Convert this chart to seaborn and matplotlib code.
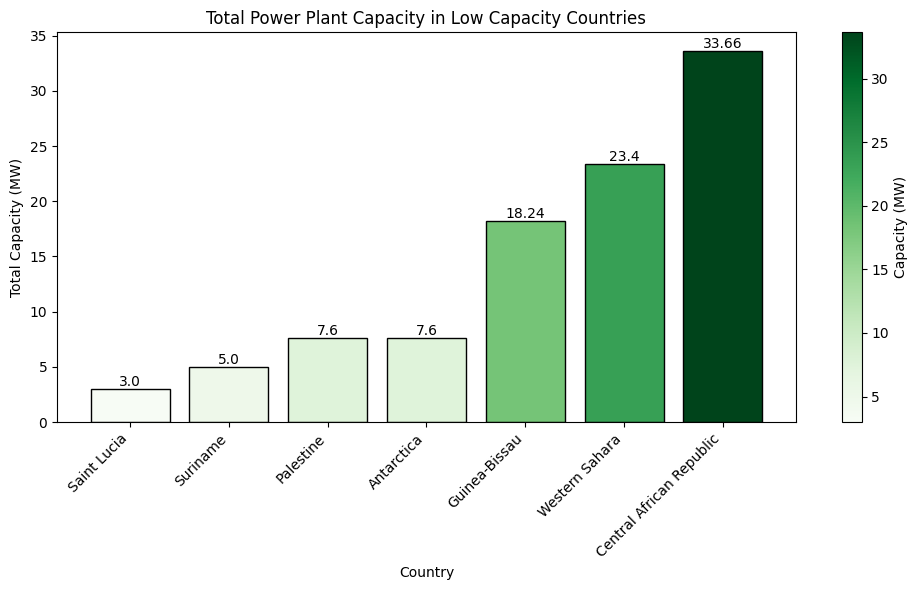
import matplotlib
matplotlib.use("Agg")
import matplotlib.pyplot as plt
import seaborn as sns
from matplotlib.colors import Normalize
from matplotlib.cm import ScalarMappable

# data
countries = ['Saint Lucia', 'Suriname', 'Palestine', 'Antarctica',
             'Guinea-Bissau', 'Western Sahara', 'Central African Republic']
capacity = [3.0, 5.0, 7.6, 7.6, 18.24, 23.4, 33.66]

norm = Normalize(vmin=min(capacity), vmax=max(capacity))
cmap = plt.get_cmap('Greens')
colors = [cmap(norm(v)) for v in capacity]

W, H = 917, 590
fig = plt.figure(figsize=(W / 100, H / 100), dpi=100)
# axes placed to match the reference layout (pixel boxes -> figure fractions)
ax = fig.add_axes([57 / W, 1 - 422 / H, (796 - 57) / W, (422 - 32) / H])
cax = fig.add_axes([842 / W, 1 - 422 / H, 19.5 / W, (422 - 32) / H])

sns.barplot(x=countries, y=capacity, hue=countries, palette=colors, legend=False,
            saturation=1, edgecolor='black', linewidth=1, width=0.8, ax=ax)

# value labels on top of bars
for cont, v in zip(ax.containers, capacity):
    ax.bar_label(cont, labels=[f'{v}'], fontsize=10)

ax.set_xlim(-0.74, len(countries) - 1 + 0.74)
ax.set_title('Total Power Plant Capacity in Low Capacity Countries')
ax.set_xlabel('Country')
ax.set_ylabel('Total Capacity (MW)')
plt.setp(ax.get_xticklabels(), rotation=45, ha='right')

sm = ScalarMappable(norm=norm, cmap=cmap)
sm.set_array([])
cbar = fig.colorbar(sm, cax=cax)
cbar.set_label('Capacity (MW)')

plt.savefig('out.png', dpi=100)
